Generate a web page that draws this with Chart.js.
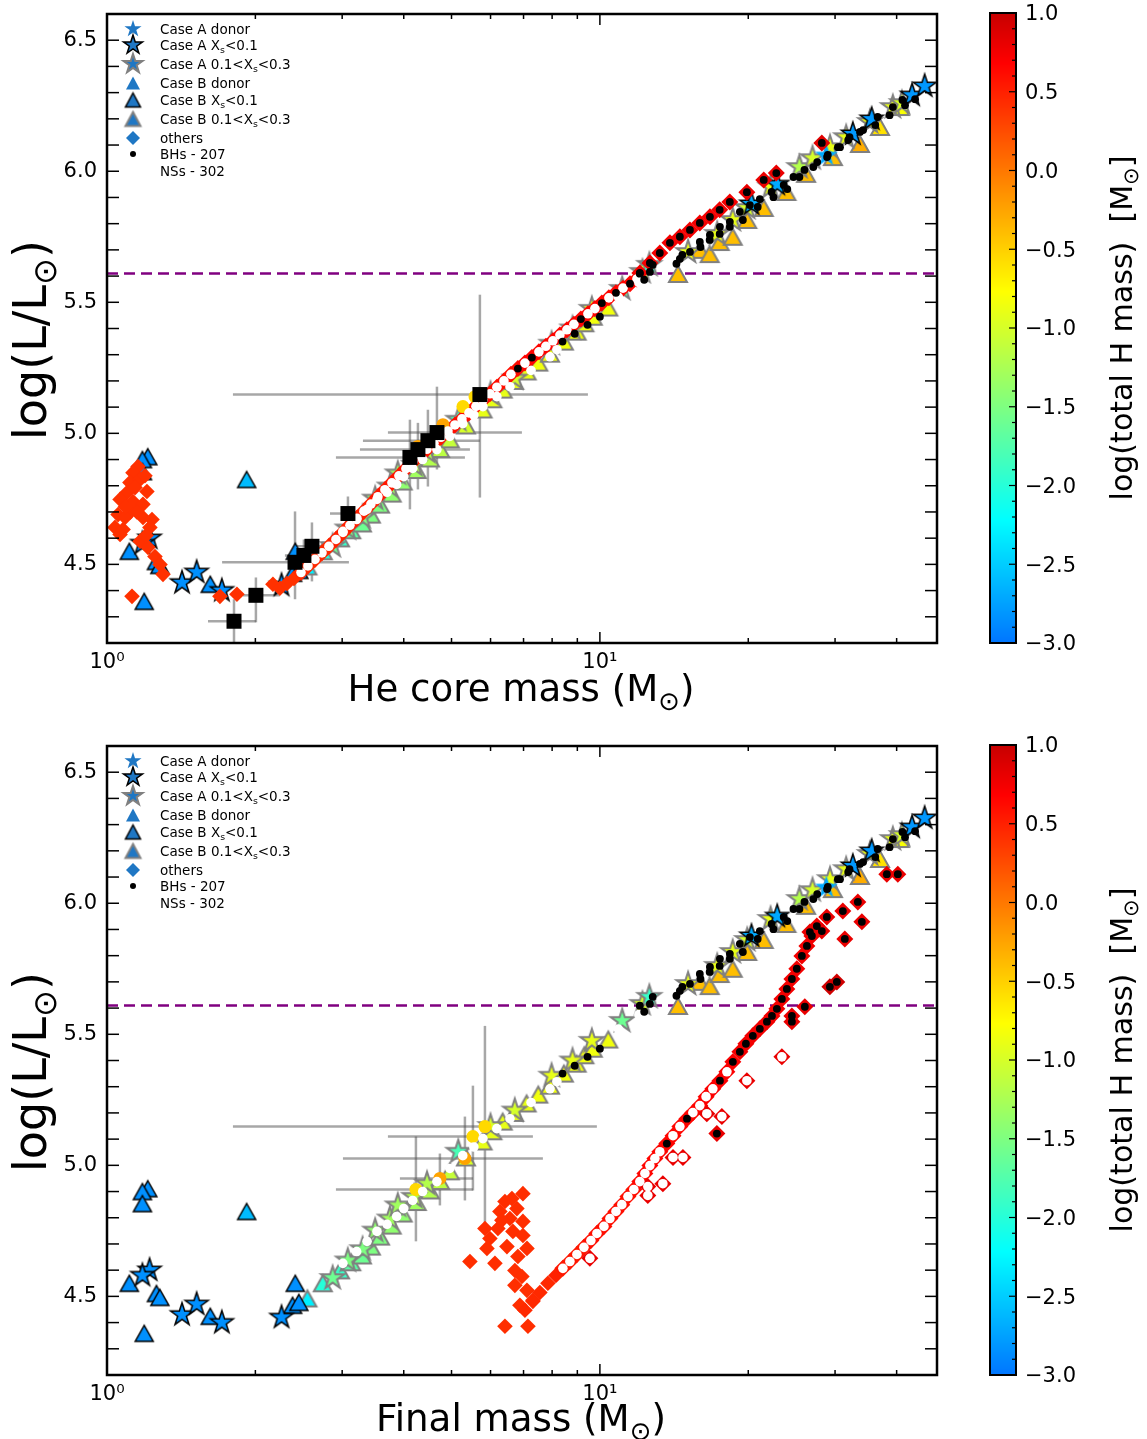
<!DOCTYPE html>
<html><head><meta charset="utf-8">
<script src="https://cdn.jsdelivr.net/npm/chart.js@4.4.0/dist/chart.umd.min.js"></script>
<style>
html,body{margin:0;padding:0;background:#fff;}
#wrap{position:relative;width:1147px;height:1439px;background:#fff;}
canvas{position:absolute;left:0;display:block;}
</style></head><body>
<div id="wrap">
<canvas id="cTop" width="1147" height="732" style="top:0"></canvas>
<canvas id="cBot" width="1147" height="707" style="top:732px"></canvas>
</div>
<script>
// ---------------- DATA ----------------
const xTicks = [1, 10];
const xTickLabels = ['10\u2070', '10\u00B9'];
const yTicks = [4.5, 5.0, 5.5, 6.0, 6.5];
const cbTicks = [1.0, 0.5, 0.0, -0.5, -1.0, -1.5, -2.0, -2.5, -3.0];
const cbMin = -3, cbMax = 1;
const xMin = 1, xMax = 48.3, yMin = 4.2, yMax = 6.6;
const lumLimit = 5.61;
const legendLabels = ['Case A donor','Case A X_s<0.1','Case A 0.1<X_s<0.3','Case B donor','Case B X_s<0.1','Case B 0.1<X_s<0.3','others','BHs - 207','NSs - 302'];
const xTitleTop = 'He core mass (M_\u2299)';
const xTitleBot = 'Final mass (M_\u2299)';
const yTitle = 'log(L/L_\u2299)';
const cbTitle = 'log(total H mass)  [M_\u2299]';

// stripped stars (same in both panels): [mass, logL, logH]
const caseADonor = [[28.8,6.06,-2.7]];
const caseBDonor = [];
const caseAXs01 = [[1.22,4.60,-2.85],[1.18,4.58,-2.85],[1.42,4.43,-2.85],[1.52,4.47,-2.85],[1.71,4.40,-2.85],[2.26,4.42,-2.85],
 [20.3,5.875,-2.7],[22.9,5.95,-2.7],[32.6,6.142,-2.8],[35.6,6.199,-2.8],[43.0,6.29,-2.8],[45.6,6.325,-2.8]];
const caseAXs03 = [[2.87,4.57,-1.6],[3.08,4.637,-1.5],[3.30,4.68,-1.5],[3.50,4.751,-1.4],[3.75,4.797,-1.3],[3.89,4.847,-1.3],[4.2,4.88,-1.2],
 [4.46,4.93,-1.2],[5.16,5.052,-1.8],[6.0,5.15,-1.0],[6.72,5.209,-1.0],[7.98,5.342,-0.9],[8.8,5.40,-0.9],[9.63,5.475,-0.9],[11.1,5.551,-1.6],
 [12.2,5.616,-1.0],[12.6,5.643,-1.9],[15.1,5.692,-0.9],[17.3,5.761,-0.9],[18.6,5.814,-0.9],[19.9,5.86,-1.0],[22.2,5.94,-0.9],[25.4,6.016,-1.2],
 [27.0,6.05,-1.0],[29.3,6.092,-0.9],[31.6,6.13,-0.9],[35.3,6.188,-0.9],[39.3,6.245,-0.9],[41.0,6.26,-1.0]];
const caseBXs01 = [[1.21,4.911,-2.85],[1.18,4.90,-2.85],[1.18,4.854,-2.85],[1.11,4.55,-2.85],[1.19,4.359,-2.85],[1.26,4.511,-2.85],
 [1.28,4.496,-2.85],[1.62,4.424,-2.85],[1.92,4.824,-2.6],[2.41,4.55,-2.85],[2.38,4.466,-2.85],[2.45,4.477,-2.85]];
const caseBXs03 = [[2.55,4.492,-2.3],[2.74,4.55,-2.0],[2.97,4.599,-1.9],[3.13,4.63,-1.7],[3.29,4.656,-1.6],[3.43,4.69,-1.5],[3.58,4.728,-1.5],
 [3.78,4.77,-1.4],[3.98,4.816,-1.4],[4.25,4.86,-1.3],[4.52,4.904,-1.2],[4.74,4.94,-1.15],[4.96,4.977,-1.1],[5.35,5.03,-1.0],[5.78,5.091,-0.9],
 [6.05,5.13,-0.9],[6.35,5.167,-0.9],[6.7,5.20,-0.9],[7.10,5.236,-0.9],[7.5,5.27,-0.85],[7.92,5.304,-0.85],[8.45,5.35,-0.85],[8.97,5.388,-0.85],
 [9.3,5.42,-0.85],[9.67,5.445,-0.85],[10.4,5.48,-0.85],[14.4,5.608,-0.4],[15.95,5.70,-0.4],[16.7,5.684,-0.4],[17.5,5.73,-0.4],[18.6,5.75,-0.4],
 [19.9,5.814,-0.4],[21.5,5.86,-0.4],[23.9,5.921,-0.4],[26.2,5.99,-0.4],[29.7,6.054,-0.4],[33.7,6.104,-0.3],[37.0,6.169,-0.6],[40.6,6.245,-0.8]];
const nsTrack = [[3.01,4.626],[3.21,4.671],[3.37,4.710],[3.53,4.748],[3.70,4.775],[3.87,4.805],[4.0,4.835],[4.17,4.866],[4.37,4.90],[4.67,4.938],
 [4.96,4.988],[5.27,5.037],[5.55,5.07],[5.79,5.102],[6.18,5.14],[6.57,5.178],[7.25,5.24],[7.92,5.292],[8.18,5.319],[10.9,5.52],[12.0,5.575]];
const bhTrack = [[8.4,5.35],[8.89,5.38],[9.44,5.414],[10.0,5.445],[12.3,5.586],[12.63,5.616],[14.53,5.666],[15.23,5.692],[15.95,5.73],
 [16.72,5.757],[17.52,5.788],[18.35,5.807],[19.23,5.845],[20.15,5.871],[21.11,5.894],[22.3,5.921],[23.6,5.948],[24.7,5.978],[26.0,6.005],
 [27.6,6.035],[29.0,6.062],[30.4,6.092],[31.9,6.119],[33.7,6.15],[36.2,6.176],[38.7,6.214],[41.6,6.252],[43.6,6.275],
 [12.05,5.609],[12.8,5.643],[14.3,5.647],[14.7,5.681],[16.0,5.711],[16.7,5.738],[17.5,5.761],[18.35,5.788],[19.5,5.814],[20.9,5.864],
 [22.5,5.901],[24.0,5.932],[25.4,5.978],[27.1,6.016],[28.9,6.054],[30.7,6.092],[32.1,6.13],[34.2,6.157],[36.6,6.207],[39.3,6.245],[41.1,6.272]];

// "others" in top panel (He core mass): [mass, logL, logH, fate 0=-,1=NS,2=BH]
const othersTop = [[1.156,4.873,0.4,0],[1.129,4.850,0.4,0],[1.113,4.812,0.4,0],[1.167,4.824,0.4,0],[1.098,4.774,0.4,0],[1.205,4.778,0.4,0],
 [1.063,4.748,0.4,0],[1.129,4.740,0.4,0],[1.183,4.729,0.4,0],[1.053,4.690,0.4,0],[1.113,4.698,0.4,0],[1.183,4.679,0.4,0],[1.234,4.671,0.4,0],
 [1.038,4.641,0.4,0],[1.078,4.633,0.4,0],[1.222,4.641,0.4,0],[1.063,4.614,0.4,0],[1.167,4.588,0.4,0],[1.211,4.565,0.4,0],[1.251,4.530,0.4,0],
 [1.299,4.462,0.4,0],[1.124,4.378,0.4,0],[1.695,4.378,0.4,0],[1.835,4.386,0.4,0],[2.171,4.424,0.4,0],[1.088,4.679,0.4,0],[1.14,4.793,0.4,0],
 [1.194,4.838,0.4,0],[1.281,4.50,0.4,0],[1.09,4.72,0.4,0],[1.15,4.70,0.4,0],[1.20,4.61,0.4,0],
 [2.243,4.409,0.4,0],[2.318,4.427,0.4,0],[2.395,4.446,0.4,0],[2.475,4.469,0.45,1],[2.557,4.494,0.45,1],[2.642,4.519,0.45,1],[2.730,4.544,0.45,1],
 [2.820,4.569,0.45,1],[2.914,4.595,0.5,1],[3.011,4.622,0.5,1],[3.111,4.649,0.5,1],[3.214,4.676,0.5,1],[3.321,4.703,0.5,1],[3.431,4.730,0.5,1],
 [3.545,4.758,0.55,1],[3.663,4.785,0.55,1],[3.785,4.811,0.55,1],[3.911,4.838,0.55,1],[4.041,4.865,0.55,1],[4.175,4.892,0.55,1],[4.314,4.916,0.55,1],
 [4.457,4.939,0.55,1],[4.606,4.962,0.55,1],[4.759,4.985,0.55,1],[4.917,5.009,0.6,1],[5.080,5.032,0.6,1],[5.249,5.055,0.6,1],[5.424,5.078,0.6,1],
 [5.604,5.103,0.6,1],[5.790,5.127,0.6,1],[5.982,5.151,0.6,1],[6.181,5.176,0.6,1],[6.387,5.200,0.6,1],[6.599,5.225,0.6,1],[6.818,5.247,0.6,2],
 [7.045,5.268,0.65,1],[7.279,5.289,0.65,2],[7.521,5.311,0.65,1],[7.771,5.332,0.65,1],[8.029,5.353,0.65,1],[8.296,5.375,0.65,1],[8.572,5.395,0.65,1],
 [8.857,5.416,0.65,1],[9.151,5.436,0.65,2],[9.456,5.456,0.65,1],[9.770,5.476,0.65,1],[10.09,5.497,0.65,2],[10.43,5.517,0.65,1],[10.78,5.536,0.65,2],
 [11.14,5.554,0.65,1],[11.51,5.571,0.65,2],[11.89,5.589,0.65,1],
 [12.05,5.612,0.75,2],[12.63,5.65,0.75,2],[13.23,5.688,0.75,2],[13.87,5.727,0.75,2],[14.53,5.75,0.75,2],[15.23,5.776,0.75,2],[15.95,5.803,0.75,2],
 [16.72,5.826,0.75,2],[17.5,5.853,0.75,2],[18.35,5.883,0.75,2],[19.87,5.92,0.8,2],[21.5,5.967,0.8,2],[22.8,5.993,0.8,2],[28.2,6.108,0.85,2]];

// "others" in bottom panel (final mass)
const othersBot = [[6.98,4.892,0.42,0],[6.63,4.873,0.42,0],[6.418,4.862,0.42,0],[6.786,4.835,0.42,0],[6.268,4.824,0.42,0],[6.568,4.797,0.42,0],
 [6.98,4.786,0.42,0],[5.845,4.759,0.42,0],[6.21,4.759,0.42,0],[6.661,4.748,0.42,0],[5.982,4.721,0.42,0],[6.98,4.732,0.42,0],[7.113,4.683,0.42,0],
 [5.90,4.683,0.42,0],[6.478,4.690,0.42,0],[5.449,4.633,0.42,0],[6.124,4.626,0.42,0],[6.723,4.599,0.42,0],[6.947,4.576,0.42,0],[6.723,4.542,0.42,0],
 [7.113,4.523,0.42,0],[6.418,4.386,0.42,0],[7.146,4.386,0.42,0],[6.882,4.466,0.42,0],[7.313,4.481,0.42,0],[6.326,4.790,0.42,0],[6.818,4.652,0.42,0],
 [7.046,4.447,0.45,0],[7.313,4.485,0.45,0],[7.556,4.515,0.45,0],[7.844,4.550,0.45,0],[8.143,4.580,0.5,0],
 [8.413,4.607,0.55,1],[8.693,4.633,0.55,1],[8.982,4.660,0.55,1],[9.281,4.687,0.55,1],[9.588,4.713,0.6,1],[9.861,4.740,0.6,1],[10.19,4.767,0.6,1],
 [10.48,4.797,0.6,1],[10.78,4.824,0.6,1],[11.08,4.850,0.6,1],[11.40,4.881,0.6,1],[11.72,4.908,0.6,1],[12.05,4.938,0.65,1],[12.34,4.969,0.65,1],
 [12.63,4.999,0.65,1],[12.93,5.026,0.65,1],[13.23,5.052,0.65,1],[13.67,5.083,0.65,2],[14.07,5.113,0.65,1],[14.53,5.148,0.65,1],[15.02,5.178,0.65,2],
 [15.44,5.201,0.65,1],[15.95,5.228,0.65,1],[16.42,5.262,0.7,1],[16.95,5.292,0.7,1],[17.52,5.323,0.7,2],[18.10,5.357,0.7,1],[18.61,5.395,0.7,2],
 [19.23,5.433,0.75,2],[19.78,5.464,0.75,2],[20.43,5.494,0.75,2],[21.11,5.521,0.75,2],[21.82,5.548,0.75,2],[22.34,5.570,0.75,2],[22.86,5.597,0.75,2],
 [23.40,5.635,0.75,2],[23.95,5.673,0.75,2],[24.52,5.711,0.75,2],[25.09,5.750,0.75,2],[25.69,5.799,0.75,2],[26.30,5.837,0.75,2],[26.92,5.875,0.75,2],
 [27.55,5.913,0.75,2],
 [23.40,5.414,0.8,1],[19.87,5.323,0.8,1],[17.68,5.186,0.8,1],[17.27,5.121,0.8,2],[16.48,5.197,0.8,1],[14.74,5.030,0.8,1],[14.07,5.030,0.8,1],
 [13.42,4.930,0.8,1],[12.51,4.919,0.8,1],[12.51,4.885,0.8,1],[9.544,4.645,0.8,1],[31.11,5.970,0.8,2],[33.37,6.005,0.8,2],[34.0,5.929,0.8,2],
 [31.40,5.864,0.8,2],[29.28,5.681,0.95,2],[30.25,5.70,0.95,2],[26.05,5.605,0.8,2],[24.52,5.570,0.8,2],[24.52,5.548,0.8,2],[38.21,6.111,0.8,2],
 [40.22,6.111,0.8,2],[28.87,5.948,0.8,2],[28.2,5.894,0.8,2],[26.67,5.890,0.8,2]];

// observed stars: [mass, logL, massLo, massHi, logLLo, logLHi]
const obsTop = [[5.709,5.148,1.801,9.456,4.755,5.529],[4.671,5.003,3.715,6.947,4.862,5.178],[4.478,4.972,3.306,5.709,4.797,5.090],
 [4.274,4.938,3.26,5.449,4.786,5.04],[4.117,4.908,2.914,5.323,4.71,5.052],[3.082,4.694,2.834,3.229,4.626,4.759],[2.605,4.569,2.407,2.834,4.435,4.66],
 [2.509,4.534,2.296,2.768,4.462,4.595],[2.407,4.508,1.712,3.096,4.367,4.702],[2.005,4.382,1.888,2.243,4.279,4.45],[1.810,4.283,1.603,2.005,4.15,4.367]];
const circTop = [[5.274,5.102,-0.55],[5.58,5.14,-0.55],[4.274,4.95,-0.25],[4.804,5.033,-0.25]];
// bottom: [mass, logL, massLo, massHi, logLLo, logLHi, logH]
const obsBot = [[5.845,5.148,1.801,9.86,4.759,5.532,-0.55],[5.526,5.110,3.715,7.313,4.904,5.304,-0.55],[5.323,5.026,3.011,7.662,4.866,5.186,-0.25],
 [4.736,4.950,3.929,5.526,4.847,5.045,-0.25],[4.234,4.908,2.914,5.526,4.71,5.110,-0.55]];

// ---------------- helpers ----------------
const FONT = "'DejaVu Sans', sans-serif";
function cmap(v){
  let t = 0.24 + (v - cbMin) * 0.1725; t = Math.max(0, Math.min(1, t));
  const f = x => Math.max(0, Math.min(1, x));
  const r = f(1.5 - Math.abs(4*t-3)), g = f(1.5 - Math.abs(4*t-2)), b = f(1.5 - Math.abs(4*t-1));
  return 'rgb(' + Math.round(r*255) + ',' + Math.round(g*255) + ',' + Math.round(b*255) + ')';
}
const cache = {};
function starImg(fill, edge, R, lw){
  const key = 's|'+fill+'|'+edge+'|'+R+'|'+lw; if (cache[key]) return cache[key];
  const pad = Math.ceil(lw) + 2, S = Math.ceil(2*R + 2*pad);
  const c = document.createElement('canvas'); c.width = c.height = S;
  const g = c.getContext('2d'); g.translate(S/2, S/2); g.beginPath();
  for (let i = 0; i < 10; i++){ const r = (i % 2) ? R*0.382 : R; const a = -Math.PI/2 + i*Math.PI/5; g.lineTo(r*Math.cos(a), r*Math.sin(a)); }
  g.closePath(); g.fillStyle = fill; g.fill();
  if (edge){ g.lineWidth = lw; g.strokeStyle = edge; g.lineJoin = 'miter'; g.stroke(); }
  return cache[key] = c;
}
function triImg(fill, edge, W, H, lw){
  const key = 't|'+fill+'|'+edge+'|'+W+'|'+H+'|'+lw; if (cache[key]) return cache[key];
  const pad = Math.ceil(lw) + 2, S = Math.ceil(Math.max(W, H) + 2*pad);
  const c = document.createElement('canvas'); c.width = c.height = S;
  const g = c.getContext('2d'); g.translate(S/2, S/2); g.beginPath();
  g.moveTo(0, -H/2); g.lineTo(W/2, H/2); g.lineTo(-W/2, H/2); g.closePath();
  g.fillStyle = fill; g.fill();
  if (edge){ g.lineWidth = lw; g.strokeStyle = edge; g.lineJoin = 'miter'; g.stroke(); }
  return cache[key] = c;
}
function parseRich(s){
  const segs = []; let buf = '';
  for (let i = 0; i < s.length; i++){
    if (s[i] === '_'){ if (buf) segs.push({t: buf}); buf = ''; segs.push({t: s[i+1], sub: true}); i++; }
    else buf += s[i];
  }
  if (buf) segs.push({t: buf}); return segs;
}
function richWidth(ctx, s, size){
  let w = 0; for (const g of parseRich(s)){ ctx.font = (g.sub ? size*0.7 : size) + 'px ' + FONT; w += ctx.measureText(g.t).width; } return w;
}
function drawRich(ctx, s, x, y, size, align){
  const w = richWidth(ctx, s, size); let cx = align === 'center' ? x - w/2 : x;
  ctx.textAlign = 'left'; ctx.textBaseline = 'alphabetic';
  for (const g of parseRich(s)){
    const fs = g.sub ? size*0.7 : size; ctx.font = fs + 'px ' + FONT;
    ctx.fillText(g.t, cx, y + (g.sub ? size*0.22 : 0)); cx += ctx.measureText(g.t).width;
  }
}
function fitSize(ctx, s, target, base){ return base * target / richWidth(ctx, s, base); }

const LEG_BLUE = '#1f77c4';
function drawLegend(ctx){
  const rows = [29,45,64,83,100,119,138,154,171];
  ctx.save();
  legendLabels.forEach((lab, i) => {
    const y = rows[i], x = 133; let img = null;
    if (i === 0) img = starImg(LEG_BLUE, null, 9, 0);
    if (i === 1) img = starImg(LEG_BLUE, '#000', 10, 1.5);
    if (i === 2) img = starImg(LEG_BLUE, '#808080', 10, 2);
    if (i === 3) img = triImg(LEG_BLUE, null, 14, 13, 0);
    if (i === 4) img = triImg(LEG_BLUE, '#000', 15, 14, 1.5);
    if (i === 5) img = triImg(LEG_BLUE, '#808080', 15, 14, 2);
    if (img) ctx.drawImage(img, x - img.width/2, y - img.height/2);
    if (i === 6){ ctx.fillStyle = LEG_BLUE; ctx.beginPath(); ctx.moveTo(x, y-7); ctx.lineTo(x+7, y); ctx.lineTo(x, y+7); ctx.lineTo(x-7, y); ctx.closePath(); ctx.fill(); }
    if (i === 7){ ctx.fillStyle = '#000'; ctx.beginPath(); ctx.arc(x, y, 3, 0, Math.PI*2); ctx.fill(); }
    ctx.fillStyle = '#000'; drawRich(ctx, lab, 160, y + 4.8, 13.5, 'left');
  });
  ctx.restore();
}
function drawColorbar(ctx){
  const L = 990, R = 1016, T = 13, B = 643;
  const py = v => T + (cbMax - v) / (cbMax - cbMin) * (B - T);
  for (let p = T; p < B; p++){ const v = cbMax - (p - T + 0.5) / (B - T) * (cbMax - cbMin); ctx.fillStyle = cmap(v); ctx.fillRect(L, p, R - L, 1); }
  ctx.strokeStyle = '#000'; ctx.lineWidth = 1.2;
  for (let k = cbMin*10; k <= cbMax*10; k++){
    const y = py(k/10), len = (k % 5 === 0) ? 7 : 4;
    ctx.beginPath(); ctx.moveTo(R, y); ctx.lineTo(R - len, y); ctx.stroke();
  }
  ctx.lineWidth = 2; ctx.strokeRect(L, T, R - L, B - T);
  ctx.fillStyle = '#000'; ctx.font = '21px ' + FONT; ctx.textAlign = 'left'; ctx.textBaseline = 'middle';
  cbTicks.forEach(v => { ctx.fillText((v < 0 ? '\u2212' : '') + Math.abs(v).toFixed(1), 1025, py(v) + 2); });
  const fs = fitSize(ctx, cbTitle, 345, 24);
  ctx.save(); ctx.translate(1121, 328); ctx.rotate(-Math.PI/2); drawRich(ctx, cbTitle, 0, fs*0.36, fs, 'center'); ctx.restore();
}
function drawFrame(chart){
  const {ctx, chartArea: a, scales: {x, y}} = chart;
  ctx.save(); ctx.strokeStyle = '#000'; ctx.lineWidth = 1.5;
  const minorX = [2,3,4,5,6,7,8,9,20,30,40];
  const line = (x1,y1,x2,y2) => { ctx.beginPath(); ctx.moveTo(x1,y1); ctx.lineTo(x2,y2); ctx.stroke(); };
  xTicks.forEach(v => { const p = x.getPixelForValue(v); line(p, a.bottom, p, a.bottom-11); line(p, a.top, p, a.top+11); });
  minorX.forEach(v => { const p = x.getPixelForValue(v); line(p, a.bottom, p, a.bottom-5); line(p, a.top, p, a.top+5); });
  for (let k = Math.ceil(yMin*10); k <= Math.floor(yMax*10); k++){
    const p = y.getPixelForValue(k/10); if (p <= a.top + 1 || p >= a.bottom - 1) continue;
    line(a.left, p, a.left+12, p); line(a.right, p, a.right-12, p);
  }
  ctx.lineWidth = 2.5; ctx.strokeRect(a.left, a.top, a.right - a.left, a.bottom - a.top);
  ctx.restore();
}
function errPlugin(obs){
  return { id: 'err', beforeDatasetsDraw(chart){
    const {ctx, chartArea: a, scales: {x, y}} = chart;
    ctx.save(); ctx.beginPath(); ctx.rect(a.left, a.top, a.right-a.left, a.bottom-a.top); ctx.clip();
    ctx.strokeStyle = 'rgba(80,80,80,0.5)'; ctx.lineWidth = 2.5;
    obs.forEach(o => {
      const px = x.getPixelForValue(o[0]), py = y.getPixelForValue(o[1]);
      ctx.beginPath(); ctx.moveTo(x.getPixelForValue(o[2]), py); ctx.lineTo(x.getPixelForValue(o[3]), py); ctx.stroke();
      ctx.beginPath(); ctx.moveTo(px, y.getPixelForValue(o[4])); ctx.lineTo(px, y.getPixelForValue(o[5])); ctx.stroke();
    });
    ctx.restore();
  }};
}
function decoPlugin(xTitle, xTitleY){
  return { id: 'deco', afterDraw(chart){
    const ctx = chart.ctx; drawFrame(chart); drawLegend(ctx);
    ctx.save(); ctx.fillStyle = '#000';
    const fx = fitSize(ctx, xTitle, xTitle === xTitleTop ? 347 : 290, 26);
    drawRich(ctx, xTitle, 521, xTitleY + fx*0.36, fx, 'center');
    const fy = fitSize(ctx, yTitle, 200, 26);
    ctx.translate(29, 340); ctx.rotate(-Math.PI/2); drawRich(ctx, yTitle, 0, fy*0.36, fy, 'center');
    ctx.restore();
    ctx.save(); drawColorbar(ctx); ctx.restore();
  }};
}

const pts = arr => arr.map(p => ({x: p[0], y: p[1], c: p[2], f: p[3] || 0}));
function markerDS(label, arr, kind, edge, order){
  const lw = edge === '#808080' ? 2 : 1.5;
  return { label, data: pts(arr), order, clip: 0, pointRadius: 8,
    pointStyle: ctx => { if (!ctx.raw) return 'circle'; const f = cmap(ctx.raw.c);
      return kind === 'star' ? starImg(f, edge, 12, lw) : triImg(f, edge, 18, 16, lw); } };
}
function buildDatasets(others, circles, squares, circleRadius){
  const ds = [];
  ds.push({label: 'limit', data: [{x: xMin, y: lumLimit}, {x: xMax, y: lumLimit}], showLine: true, pointRadius: 0,
    borderColor: '#800080', borderWidth: 2.5, borderDash: [11, 6], order: 100, clip: 0});
  ds.push(markerDS('Case B 0.1<Xs<0.3', caseBXs03, 'tri', '#808080', 90));
  ds.push(markerDS('Case A 0.1<Xs<0.3', caseAXs03, 'star', '#808080', 85));
  ds.push(markerDS('Case B Xs<0.1', caseBXs01, 'tri', '#000', 80));
  ds.push(markerDS('Case A Xs<0.1', caseAXs01, 'star', '#000', 75));
  ds.push(markerDS('Case B donor', caseBDonor, 'tri', null, 71));
  ds.push(markerDS('Case A donor', caseADonor, 'star', null, 70));
  ds.push({label: 'others', data: pts(others), order: 60, clip: 0, pointStyle: 'rectRot',
    pointRadius: c => c.raw ? (c.raw.f ? 8.5 : 7.8) : 7.8, pointBorderWidth: 0,
    borderWidth: 0, pointBackgroundColor: c => c.raw ? cmap(c.raw.c) : '#f00', backgroundColor: c => c.raw ? cmap(c.raw.c) : '#f00'});
  ds.push({label: 'obs', data: pts(circles), order: 55, clip: 0, pointStyle: 'circle', pointRadius: circleRadius, pointBorderWidth: 0,
    borderWidth: 0, pointBackgroundColor: c => c.raw ? cmap(c.raw.c) : '#ff0', backgroundColor: c => c.raw ? cmap(c.raw.c) : '#ff0'});
  const ns = nsTrack.map(p => ({x: p[0], y: p[1]})).concat(others.filter(p => p[3] === 1).map(p => ({x: p[0], y: p[1]})));
  const bh = bhTrack.map(p => ({x: p[0], y: p[1]})).concat(others.filter(p => p[3] === 2).map(p => ({x: p[0], y: p[1]})));
  ds.push({label: 'NSs', data: ns, order: 50, clip: 0, pointStyle: 'circle', pointRadius: 4.8, pointBorderWidth: 0, borderWidth: 0,
    pointBackgroundColor: '#fff', backgroundColor: '#fff'});
  ds.push({label: 'BHs', data: bh, order: 45, clip: 0, pointStyle: 'circle', pointRadius: 3.9, pointBorderWidth: 0, borderWidth: 0,
    pointBackgroundColor: '#000', backgroundColor: '#000'});
  if (squares) ds.push({label: 'observed', data: squares.map(o => ({x: o[0], y: o[1]})), order: 40, clip: 0, pointStyle: 'rect',
    pointRadius: 10.6, pointBorderWidth: 0, borderWidth: 0, pointBackgroundColor: '#000', backgroundColor: '#000'});
  return ds;
}
function noPad(s){ s.paddingTop = 0; s.paddingBottom = 0; s.paddingLeft = 0; s.paddingRight = 0; }
function makeChart(id, xTitle, xAxisH, xTitleY, others, circles, squares, obs){
  return new Chart(document.getElementById(id), {
    type: 'scatter',
    data: { datasets: buildDatasets(others, circles, squares, 6.5) },
    options: {
      responsive: false, animation: false, events: [],
      layout: { padding: { left: 0, right: 210, top: 14, bottom: 0 } },
      plugins: { legend: { display: false }, tooltip: { enabled: false } },
      scales: {
        x: { type: 'logarithmic', min: xMin, max: xMax, position: 'bottom',
          grid: { display: false, drawTicks: false }, border: { display: false },
          afterBuildTicks: s => { s.ticks = xTicks.map(v => ({ value: v })); },
          ticks: { autoSkip: false, maxRotation: 0, padding: 7, color: '#000', font: { family: FONT, size: 21 },
            callback: v => { const i = xTicks.indexOf(v); return i >= 0 ? xTickLabels[i] : ''; } },
          afterFit: s => { s.height = xAxisH; noPad(s); } },
        y: { type: 'linear', min: yMin, max: yMax, position: 'left',
          grid: { display: false, drawTicks: false }, border: { display: false },
          afterBuildTicks: s => { s.ticks = yTicks.map(v => ({ value: v })); },
          ticks: { padding: 10, color: '#000', font: { family: FONT, size: 21 }, callback: v => Number(v).toFixed(1) },
          afterFit: s => { s.width = 107; noPad(s); } }
      }
    },
    plugins: [errPlugin(obs), decoPlugin(xTitle, xTitleY)]
  });
}
const circBot = obsBot.map(o => [o[0], o[1], o[6]]);
makeChart('cTop', xTitleTop, 89, 688, othersTop, circTop, obsTop, obsTop);
makeChart('cBot', xTitleBot, 64, 686, othersBot, circBot, null, obsBot);
</script>
</body></html>
